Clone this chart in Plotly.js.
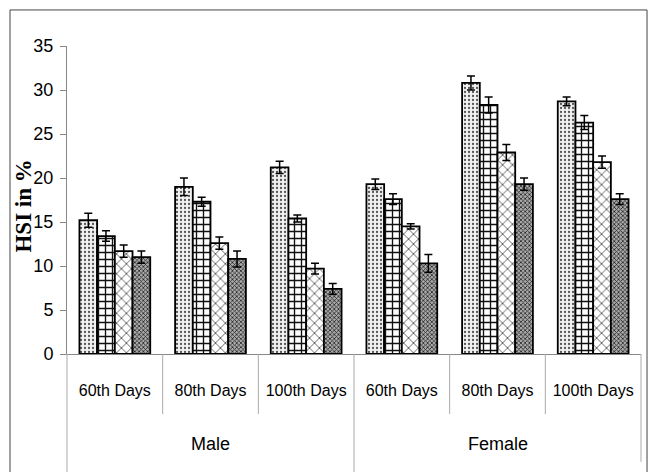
<!DOCTYPE html>
<html><head><meta charset="utf-8">
<script src="https://cdn.plot.ly/plotly-3.0.1.min.js"></script>
<style>body{margin:0;background:#fff}#chart{width:651px;height:472px}</style>
</head><body><div id="chart"></div>
<script>
const sexes = ["Male","Male","Male","Female","Female","Female"];
const days = ["60th Days","80th Days","100th Days","60th Days","80th Days","100th Days"];
const s1 = [15.2, 19.0, 21.2, 19.3, 30.8, 28.7];
const s2 = [13.4, 17.3, 15.4, 17.6, 28.3, 26.3];
const s3 = [11.7, 12.6, 9.7, 14.5, 22.9, 21.8];
const s4 = [11.0, 10.8, 7.4, 10.3, 19.3, 17.6];
const e1 = [0.8, 1.0, 0.7, 0.6, 0.8, 0.5];
const e2 = [0.6, 0.5, 0.4, 0.6, 0.9, 0.8];
const e3 = [0.7, 0.7, 0.6, 0.3, 0.9, 0.7];
const e4 = [0.7, 0.9, 0.6, 1.0, 0.7, 0.6];
const yTitle = "HSI in %";

const cats = sexes.map((s, i) => s + " | " + days[i]);
const n = cats.length;
const patterns = [
  {shape: ".", size: 4, solidity: 0.25, fgcolor: "#555", bgcolor: "#f2f2f2"},
  {shape: "+", size: 7, solidity: 0.35, fgcolor: "#111", bgcolor: "#ffffff"},
  {shape: "x", size: 7, solidity: 0.2, fgcolor: "#333", bgcolor: "#ffffff"},
  {shape: "x", size: 3, solidity: 0.45, fgcolor: "#222", bgcolor: "#aaaaaa"}
];
const vals = [s1, s2, s3, s4];
const errs = [e1, e2, e3, e4];
const traces = vals.map((v, i) => ({
  type: "bar",
  x: cats,
  y: v,
  marker: {color: "#fff", pattern: patterns[i], line: {color: "#000", width: 1.8}},
  error_y: {type: "data", array: errs[i], visible: true, color: "#000", thickness: 1.5, width: 4},
  showlegend: false
}));

const lineStyle = {color: "#aaa", width: 1};
const shapes = [];
for (let k = 0; k <= n; k++) {
  const outer = (k === 0 || k === n || sexes[k] !== sexes[k - 1]);
  shapes.push({type: "line", xref: "paper", yref: "paper", x0: k / n, x1: k / n,
    y0: 0, y1: k === n ? -0.35 : (outer ? -0.42 : -0.195), line: lineStyle});
}
shapes.push({type: "rect", xref: "paper", yref: "paper", x0: -0.0993, x1: 1.0105, y0: -0.45, y1: 1.117,
  line: {color: "#444", width: 1}});

const groups = [...new Set(sexes)];
const annotations = groups.map(g => {
  const idx = sexes.map((s, i) => s === g ? i : -1).filter(i => i >= 0);
  const mid = (idx[0] + idx[idx.length - 1] + 1) / 2 / n;
  return {xref: "paper", yref: "paper", x: mid, y: -0.292, text: g, showarrow: false,
    xanchor: "center", yanchor: "middle", font: {size: 18, family: "Liberation Sans, sans-serif", color: "#000"}};
});
annotations.push({xref: "paper", yref: "paper", x: -0.076, y: 0.48, text: yTitle, textangle: -90,
  showarrow: false, xanchor: "center", yanchor: "middle",
  font: {family: "Liberation Serif, serif", size: 23, weight: "bold", color: "#000"}});

const layout = {
  width: 651, height: 472,
  margin: {l: 67, r: 10, t: 46, b: 118},
  paper_bgcolor: "#fff", plot_bgcolor: "#fff",
  barmode: "group", bargap: 0.26, bargroupgap: 0,
  font: {family: "Liberation Sans, sans-serif", color: "#000", size: 16},
  xaxis: {
    type: "category", showline: true, linecolor: "#888", linewidth: 1,
    ticks: "", tickvals: cats, ticktext: days, ticklabelstandoff: 22,
    tickfont: {size: 16}, showgrid: false, tickangle: 0
  },
  yaxis: {
    range: [0, 35], dtick: 5, showline: true, linecolor: "#888", linewidth: 1,
    ticks: "outside", ticklen: 6, tickcolor: "#888", showgrid: false, zeroline: false,
    tickfont: {size: 18}, ticklabelstandoff: 3
  },
  shapes: shapes,
  annotations: annotations
};
Plotly.newPlot("chart", traces, layout, {staticPlot: true});
</script></body></html>
